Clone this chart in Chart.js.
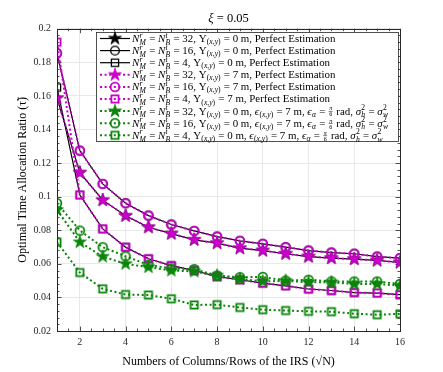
<!DOCTYPE html>
<html><head><meta charset="utf-8">
<script src="https://cdn.jsdelivr.net/npm/chart.js@4/dist/chart.umd.min.js"></script>
<style>html,body{margin:0;padding:0;background:#fff;}canvas{display:block}</style>
</head><body>
<canvas id="c" width="443" height="372"></canvas>
<script>
// ---------- data ----------
const titleText = 'ξ = 0.05';
const xAxisLabel = 'Numbers of Columns/Rows of the IRS (√N)';
const yAxisLabel = 'Optimal Time Allocation Ratio (τ̃)';
const xValues = [1,2,3,4,5,6,7,8,9,10,11,12,13,14,15,16];
const xTickValues = [2,4,6,8,10,12,14,16];
const yTickValues = [0.02,0.04,0.06,0.08,0.1,0.12,0.14,0.16,0.18,0.2];

// Perfect estimation, Υ = 0 m (black)
const perf0_N32 = [0.1586,0.1143,0.0979,0.0886,0.0818,0.0780,0.0743,0.0723,0.0693,0.0679,0.0660,0.0643,0.0634,0.0628,0.0620,0.0608];
const perf0_N16 = [0.1854,0.1274,0.1076,0.0961,0.0887,0.0834,0.0796,0.0762,0.0737,0.0719,0.0699,0.0679,0.0667,0.0660,0.0643,0.0634];
const perf0_N4  = [0.1650,0.1010,0.0808,0.0699,0.0630,0.0589,0.0560,0.0524,0.0505,0.0485,0.0469,0.0450,0.0441,0.0429,0.0426,0.0416];
// Perfect estimation, Υ = 7 m (magenta)
const perf7_N32 = [0.1586,0.1143,0.0979,0.0886,0.0818,0.0780,0.0743,0.0723,0.0693,0.0679,0.0660,0.0643,0.0634,0.0628,0.0620,0.0608];
const perf7_N16 = [0.1854,0.1274,0.1076,0.0961,0.0887,0.0834,0.0796,0.0762,0.0737,0.0719,0.0699,0.0679,0.0667,0.0660,0.0643,0.0634];
const perf7_N4  = [0.1920,0.1010,0.0808,0.0699,0.0630,0.0589,0.0560,0.0524,0.0505,0.0485,0.0469,0.0450,0.0441,0.0429,0.0426,0.0416];
// Imperfect estimation (green)
const imp_N32 = [0.0921,0.0729,0.0643,0.0600,0.0580,0.0560,0.0555,0.0530,0.0510,0.0495,0.0499,0.0490,0.0490,0.0480,0.0480,0.0470];
const imp_N16 = [0.0961,0.0798,0.0699,0.0645,0.0594,0.0572,0.0568,0.0530,0.0520,0.0522,0.0500,0.0505,0.0495,0.0495,0.0495,0.0480];
const imp_N4  = [0.0729,0.0548,0.0451,0.0417,0.0414,0.0392,0.0355,0.0357,0.0340,0.0327,0.0322,0.0317,0.0315,0.0303,0.0297,0.0302];

const legendLabels = [
 '$N^{r}_{M} = N^{t}_{B} = 32$, $Υ_{(x,y)} = 0$ m, Perfect Estimation',
 '$N^{r}_{M} = N^{t}_{B} = 16$, $Υ_{(x,y)} = 0$ m, Perfect Estimation',
 '$N^{r}_{M} = N^{t}_{B} = 4$, $Υ_{(x,y)} = 0$ m, Perfect Estimation',
 '$N^{r}_{M} = N^{t}_{B} = 32$, $Υ_{(x,y)} = 7$ m, Perfect Estimation',
 '$N^{r}_{M} = N^{t}_{B} = 16$, $Υ_{(x,y)} = 7$ m, Perfect Estimation',
 '$N^{r}_{M} = N^{t}_{B} = 4$, $Υ_{(x,y)} = 7$ m, Perfect Estimation',
 '$N^{r}_{M} = N^{t}_{B} = 32$, $Υ_{(x,y)} = 0$ m, $ϵ_{(x,y)} = 7$ m, $ϵ_{α} = \\frac{π}{6}$ rad, $σ^{2}_{h} = σ^{2}_{w}$',
 '$N^{r}_{M} = N^{t}_{B} = 16$, $Υ_{(x,y)} = 0$ m, $ϵ_{(x,y)} = 7$ m, $ϵ_{α} = \\frac{π}{6}$ rad, $σ^{2}_{h} = σ^{2}_{w}$',
 '$N^{r}_{M} = N^{t}_{B} = 4$, $Υ_{(x,y)} = 0$ m, $ϵ_{(x,y)} = 7$ m, $ϵ_{α} = \\frac{π}{6}$ rad, $σ^{2}_{h} = σ^{2}_{w}$'
];

// ---------- styles ----------
const SERIF = '"Liberation Serif", "DejaVu Serif", serif';
const BLACK = '#000000', MAG = '#cc00cc', GRN = '#0a850a';

function makeMarker(shape, color, lw){
  const c = document.createElement('canvas'); c.width = 18; c.height = 18;
  const g = c.getContext('2d'); g.translate(9,9);
  g.strokeStyle = color; g.fillStyle = color; g.lineWidth = lw; g.lineJoin = 'miter';
  if (shape === 'star'){
    const R = 6.8, r = R*0.382; g.beginPath();
    for (let k=0;k<10;k++){ const rr = k%2 ? r : R; const a = -Math.PI/2 + k*Math.PI/5;
      const px = rr*Math.cos(a), py = rr*Math.sin(a); k? g.lineTo(px,py) : g.moveTo(px,py); }
    g.closePath(); g.fill(); g.lineWidth = 0.8; g.stroke();
  } else if (shape === 'circle'){
    g.beginPath(); g.arc(0,0,4.4,0,Math.PI*2); g.stroke();
  } else {
    g.strokeRect(-3.6,-3.6,7.2,7.2);
  }
  return c;
}

function series(values){ return xValues.map((x,i)=>({x, y: values[i]})); }
function ds(label, values, color, shape, dashed, order){
  return {
    label, data: series(values), borderColor: color, backgroundColor: color,
    borderWidth: dashed ? 2 : 1.2, borderDash: dashed ? [2,2.6] : [],
    pointStyle: makeMarker(shape, color, dashed ? 1.8 : 1.3),
    pointRadius: 5, pointHoverRadius: 5, fill: false, tension: 0, order
  };
}

const datasets = [
  ds(legendLabels[0], perf0_N32, BLACK, 'star', false, 3),
  ds(legendLabels[1], perf0_N16, BLACK, 'circle', false, 3),
  ds(legendLabels[2], perf0_N4, BLACK, 'square', false, 3),
  ds(legendLabels[3], perf7_N32, MAG, 'star', true, 2),
  ds(legendLabels[4], perf7_N16, MAG, 'circle', true, 2),
  ds(legendLabels[5], perf7_N4, MAG, 'square', true, 2),
  ds(legendLabels[6], imp_N32, GRN, 'star', true, 1),
  ds(legendLabels[7], imp_N16, GRN, 'circle', true, 1),
  ds(legendLabels[8], imp_N4, GRN, 'square', true, 1)
];

// ---------- rich text ----------
function parseRich(s){
  const out = []; let math = false; let i = 0;
  const group = () => {
    if (s[i] === '{'){ let d = 1, j = i+1; while (j < s.length && d > 0){ if (s[j]==='{') d++; else if (s[j]==='}') d--; j++; }
      const g = s.slice(i+1, j-1); i = j; return g; }
    return s[i++];
  };
  while (i < s.length){
    const c = s[i];
    if (c === '$'){ math = !math; i++; continue; }
    if (s.startsWith('\\frac', i)){ i += 5; const a = group(); const b = group(); out.push({type:'frac', num:a, den:b}); continue; }
    if (c === '^' || c === '_'){
      i++; const item = {type:'scr'}; item[c==='^'?'sup':'sub'] = group();
      if (s[i] === '^' || s[i] === '_'){ const c2 = s[i]; i++; item[c2==='^'?'sup':'sub'] = group(); }
      out.push(item); continue;
    }
    const it = math && /[A-Za-zα-ωϵ]/.test(c);
    const last = out[out.length-1];
    if (last && last.type === 'text' && last.it === it) last.t += c; else out.push({type:'text', t:c, it});
    i++;
  }
  return out;
}
function fontStr(size, it){ return (it ? 'italic ' : '') + size + 'px ' + SERIF; }
function drawScriptText(ctx, str, x, y, size){
  let w = 0;
  for (const ch of str){ const it = /[A-Za-zα-ωϵ]/.test(ch); ctx.font = fontStr(size, it); ctx.fillText(ch, x + w, y); w += ctx.measureText(ch).width; }
  return w;
}
function measureScript(ctx, str, size){
  let w = 0; for (const ch of str){ ctx.font = fontStr(size, /[A-Za-zα-ωϵ]/.test(ch)); w += ctx.measureText(ch).width; } return w;
}
function drawRich(ctx, s, x, baseY, size){
  const items = parseRich(s); let cx = x; const ss = size*0.7;
  ctx.textBaseline = 'alphabetic'; ctx.textAlign = 'left';
  for (const it of items){
    if (it.type === 'text'){
      ctx.font = fontStr(size, it.it); ctx.fillText(it.t, cx, baseY); cx += ctx.measureText(it.t).width;
    } else if (it.type === 'scr'){
      let w = 0;
      if (it.sup !== undefined){ const sy = baseY - size*(it.sub!==undefined ? 0.40 : 0.38); w = Math.max(w, drawScriptText(ctx, it.sup, cx+0.3, sy, ss)); }
      if (it.sub !== undefined){ const sy = baseY + size*(it.sup!==undefined ? 0.26 : 0.2); w = Math.max(w, drawScriptText(ctx, it.sub, cx+0.3, sy, ss)); }
      cx += w + 0.8;
    } else if (it.type === 'frac'){
      const fs = size*0.55;
      const wn = measureScript(ctx, it.num, fs), wd = measureScript(ctx, it.den, fs);
      const w = Math.max(wn, wd) + 1; const axis = baseY - size*0.28;
      drawScriptText(ctx, it.num, cx + (w-wn)/2 + 0.5, axis - 1, fs);
      drawScriptText(ctx, it.den, cx + (w-wd)/2 + 0.5, axis + fs*0.75 + 0.5, fs);
      ctx.save(); ctx.strokeStyle = '#000'; ctx.lineWidth = 0.5; ctx.beginPath(); ctx.moveTo(cx+0.5, axis); ctx.lineTo(cx+w+0.5, axis); ctx.stroke(); ctx.restore();
      cx += w + 1.5;
    }
  }
  return cx - x;
}

// ---------- plugins ----------
const decorPlugin = {
  id: 'decor',
  beforeDatasetsDraw(chart){
    const {ctx, chartArea: ca, scales: {x: xs, y: ys}} = chart;
    ctx.save(); ctx.strokeStyle = '#262626'; ctx.lineWidth = 0.8;
    ctx.beginPath();
    for (let k = 3; k <= 32; k++){
      const v = k/2; const px = Math.round(xs.getPixelForValue(v)) + 0.5; const len = (k%4===0) ? 4.5 : 2.5;
      ctx.moveTo(px, ca.bottom); ctx.lineTo(px, ca.bottom - len);
      ctx.moveTo(px, ca.top); ctx.lineTo(px, ca.top + len);
    }
    for (let k = 0; k <= 45; k++){
      const v = 0.02 + k*0.004; const py = Math.round(ys.getPixelForValue(v)) + 0.5; const len = (k%5===0) ? 4.5 : 2.5;
      ctx.moveTo(ca.left, py); ctx.lineTo(ca.left + len, py);
      ctx.moveTo(ca.right, py); ctx.lineTo(ca.right - len, py);
    }
    ctx.stroke();
    ctx.restore();
  },
  afterDraw(chart){
    const {ctx, chartArea: ca} = chart;
    ctx.save();
    ctx.strokeStyle = '#262626'; ctx.lineWidth = 1;
    ctx.strokeRect(Math.round(ca.left)+0.5, Math.round(ca.top)+0.5, Math.round(ca.right-ca.left), Math.round(ca.bottom-ca.top));
    // title
    ctx.fillStyle = '#000'; ctx.textBaseline = 'alphabetic';
    const tsize = 12.5;
    const parts = [{t: titleText.slice(0,1), it:true}, {t: titleText.slice(1), it:false}];
    let tw = 0; for (const p of parts){ ctx.font = fontStr(tsize, p.it); tw += ctx.measureText(p.t).width; }
    let tx = (ca.left + ca.right)/2 - tw/2;
    for (const p of parts){ ctx.font = fontStr(tsize, p.it); ctx.fillText(p.t, tx, 22); tx += ctx.measureText(p.t).width; }
    // legend
    const L = 96, T = 32, W = 302, H = 109, rowH = 12.1;
    ctx.fillStyle = '#fff'; ctx.fillRect(L, T, W, H);
    ctx.strokeStyle = '#262626'; ctx.lineWidth = 0.8; ctx.strokeRect(L+0.5, T+0.5, W, H);
    chart.data.datasets.forEach((d, i) => {
      const cy = T + 6.5 + i*rowH;
      ctx.save(); ctx.strokeStyle = d.borderColor; ctx.lineWidth = d.borderWidth; ctx.setLineDash(d.borderDash);
      ctx.beginPath(); ctx.moveTo(100, cy); ctx.lineTo(130, cy); ctx.stroke(); ctx.restore();
      const m = d.pointStyle; ctx.drawImage(m, 115 - m.width/2, cy - m.height/2);
      ctx.fillStyle = '#000';
      drawRich(ctx, d.label, 132, cy + 3.4, 10.9);
    });
    ctx.restore();
  }
};

new Chart(document.getElementById('c'), {
  type: 'line',
  data: { datasets },
  plugins: [decorPlugin],
  options: {
    responsive: false, animation: false, devicePixelRatio: 1,
    layout: { padding: { top: 28.7, right: 43, left: 0, bottom: 0 } },
    plugins: { legend: { display: false }, tooltip: { enabled: false } },
    scales: {
      x: {
        type: 'linear', min: 1, max: 16,
        afterBuildTicks: s => { s.ticks = xTickValues.map(v => ({value: v})); },
        afterFit: s => { s.height = 41; },
        grid: { color: '#e3e3e3', lineWidth: 0.8, drawTicks: false },
        border: { display: false },
        ticks: { padding: 5, color: '#262626', font: { family: SERIF, size: 10 }, maxRotation: 0, autoSkip: false },
        title: { display: true, text: xAxisLabel, color: '#000', font: { family: SERIF, size: 12 }, padding: { top: 0, bottom: 3 } }
      },
      y: {
        type: 'linear', min: 0.02, max: 0.2,
        afterBuildTicks: s => { s.ticks = yTickValues.map(v => ({value: v})); },
        afterFit: s => { s.width = 57; },
        grid: { color: '#e3e3e3', lineWidth: 0.8, drawTicks: false },
        border: { display: false },
        ticks: { padding: 6, color: '#262626', font: { family: SERIF, size: 10 }, callback: v => String(+v.toFixed(2)), autoSkip: false },
        title: { display: true, text: yAxisLabel, color: '#000', font: { family: SERIF, size: 12 }, padding: { top: 16, bottom: 0 } }
      }
    }
  }
});
</script>
</body></html>
